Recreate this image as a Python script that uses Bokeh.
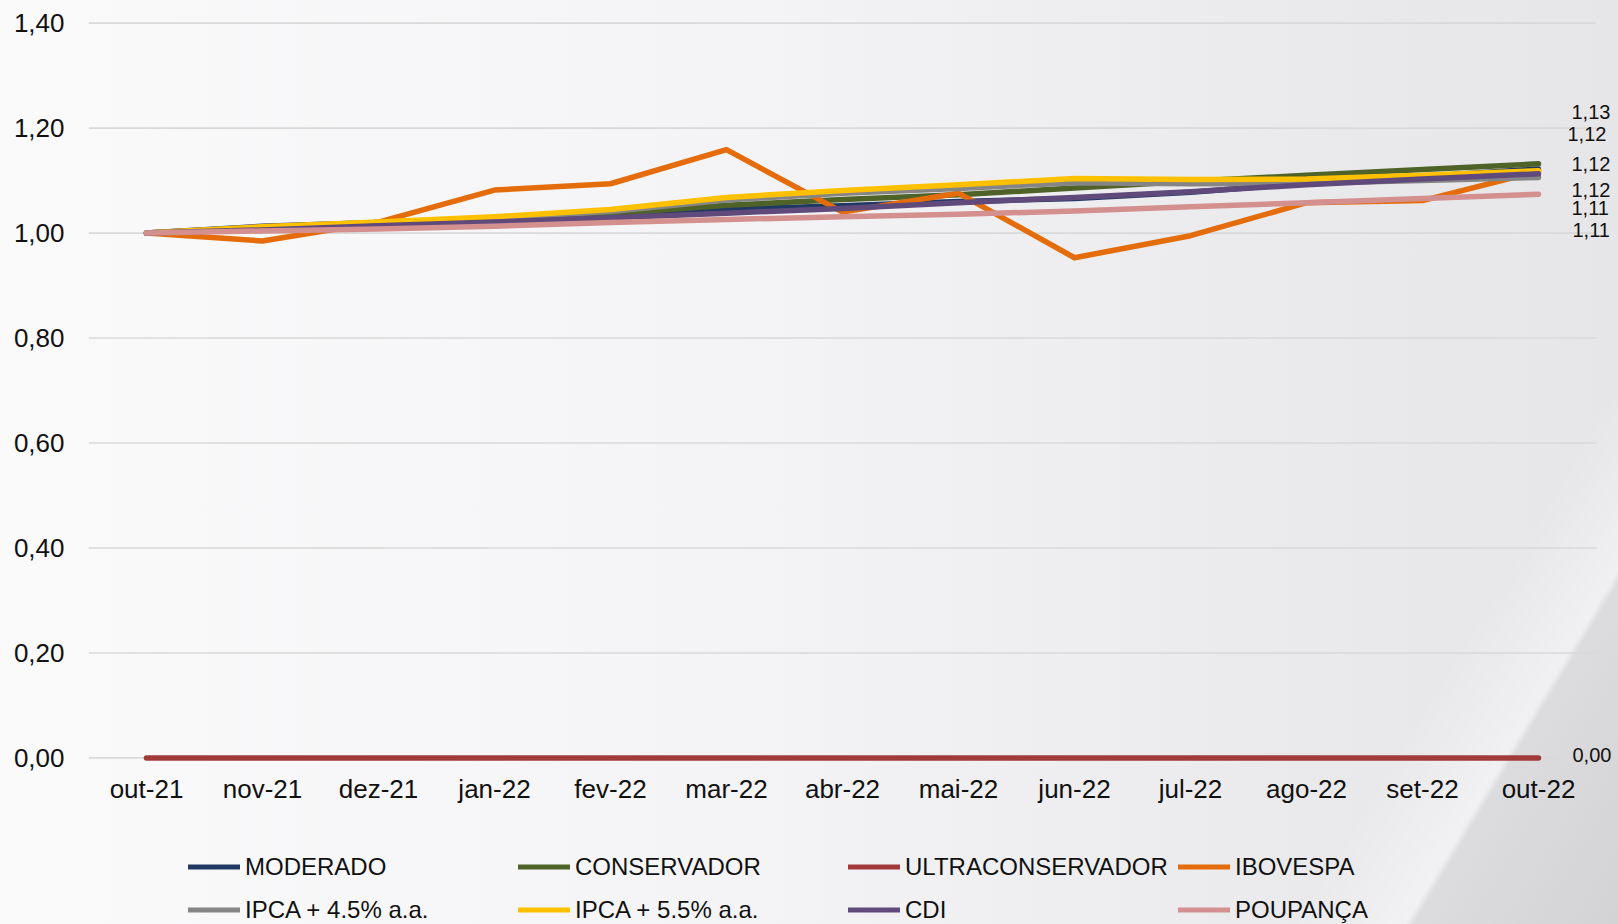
from bokeh.plotting import figure
from bokeh.layouts import column
from bokeh.models import ColumnDataSource, Legend, LegendItem, FixedTicker, Range1d
from bokeh.embed import file_html
from bokeh.resources import INLINE
from bokeh.core.properties import value

# ---------------- data ----------------
months = ["out-21", "nov-21", "dez-21", "jan-22", "fev-22", "mar-22", "abr-22",
          "mai-22", "jun-22", "jul-22", "ago-22", "set-22", "out-22"]

moderado = [1.000, 1.013, 1.020, 1.025, 1.033, 1.045, 1.052, 1.060, 1.066, 1.078, 1.095, 1.108, 1.122]
conservador = [1.000, 1.011, 1.018, 1.024, 1.037, 1.053, 1.064, 1.073, 1.086, 1.099, 1.110, 1.121, 1.132]
ultraconservador = [0.0] * 13
ibovespa = [1.000, 0.985, 1.021, 1.082, 1.094, 1.159, 1.040, 1.076, 0.953, 0.995, 1.058, 1.062, 1.118]
ipca_45 = [1.000, 1.012, 1.020, 1.028, 1.041, 1.063, 1.076, 1.085, 1.096, 1.094, 1.095, 1.100, 1.106]
ipca_55 = [1.000, 1.012, 1.021, 1.031, 1.045, 1.068, 1.081, 1.092, 1.104, 1.102, 1.103, 1.110, 1.119]
cdi = [1.000, 1.006, 1.014, 1.021, 1.029, 1.038, 1.047, 1.058, 1.068, 1.079, 1.092, 1.103, 1.113]
poupanca = [1.000, 1.004, 1.008, 1.013, 1.020, 1.026, 1.031, 1.036, 1.042, 1.050, 1.058, 1.066, 1.074]

series_names = ["MODERADO", "CONSERVADOR", "ULTRACONSERVADOR", "IBOVESPA",
                "IPCA + 4.5% a.a.", "IPCA + 5.5% a.a.", "CDI", "POUPANÇA"]
series_values = [moderado, conservador, ultraconservador, ibovespa,
                 ipca_45, ipca_55, cdi, poupanca]

y_ticks = [0.0, 0.2, 0.4, 0.6, 0.8, 1.0, 1.2, 1.4]
y_tick_labels = ["0,00", "0,20", "0,40", "0,60", "0,80", "1,00", "1,20", "1,40"]

# data labels at the last month (series, text)
end_label_series = ["CONSERVADOR", "MODERADO", "IPCA + 5.5% a.a.", "IBOVESPA",
                    "CDI", "IPCA + 4.5% a.a.", "ULTRACONSERVADOR"]
end_label_texts = ["1,13", "1,12", "1,12", "1,12", "1,11", "1,11", "0,00"]

# ---------------- styles ----------------
colors = ["#1f3864", "#4f6228", "#a33a3a", "#e46c0a",
          "#858585", "#ffc000", "#604a7b", "#d48f8f"]
label_x_offsets = [33, 29, 33, 33, 33, 34, 34]
label_y_offsets = [-52, -35, -7, 19, 34, 53, -3]
FONT = "Liberation Sans"

n = len(months)
xs = list(range(n))

MAIN_H = 830
p = figure(width=1618, height=MAIN_H, output_backend="svg", toolbar_location=None,
           x_range=Range1d(-0.5, -0.5 + 1530 / 116.0),
           y_range=Range1d(-0.0145, 1.4432),
           min_border_left=88, min_border_right=0, min_border_top=0,
           min_border_bottom=MAIN_H - 765)
p.background_fill_alpha = 0
p.border_fill_alpha = 0
p.outline_line_color = None
p.xgrid.visible = False
p.ygrid.visible = False

# gridlines spanning the category bins
p.segment(x0=[-0.5] * len(y_ticks), x1=[n - 0.5] * len(y_ticks), y0=y_ticks, y1=y_ticks,
          line_color="#d9d9d9", line_width=1.6)

for name, vals, col in zip(series_names, series_values, colors):
    src = ColumnDataSource(dict(x=xs, y=vals))
    p.line("x", "y", source=src, line_color=col, line_width=5.5,
           line_cap="round", line_join="round")

# end labels
lab_y = [series_values[series_names.index(s)][-1] for s in end_label_series]
lab_src = ColumnDataSource(dict(x=[xs[-1]] * len(lab_y), y=lab_y, t=end_label_texts,
                                xo=label_x_offsets, yo=label_y_offsets))
p.text(x="x", y="y", text="t", source=lab_src, x_offset="xo", y_offset="yo",
       text_font=value(FONT), text_font_size="20px", text_color="#111111",
       text_align="left", text_baseline="middle")

# axes
p.yaxis.ticker = FixedTicker(ticks=y_ticks)
p.yaxis.major_label_overrides = dict(zip(y_ticks, y_tick_labels))
p.xaxis.ticker = FixedTicker(ticks=xs)
p.xaxis.major_label_overrides = dict(zip(xs, months))
for ax in (p.xaxis[0], p.yaxis[0]):
    ax.axis_line_color = None
    ax.major_tick_line_color = None
    ax.minor_tick_line_color = None
    ax.major_tick_out = 0
    ax.major_tick_in = 0
    ax.major_label_text_font = FONT
    ax.major_label_text_font_size = "26px"
    ax.major_label_text_color = "#111111"
p.yaxis.major_label_standoff = 24
p.xaxis.major_label_standoff = 8

# ---------------- legend strip ----------------
LEG_H = 924 - MAIN_H
pl = figure(width=1618, height=LEG_H, output_backend="svg", toolbar_location=None,
            x_range=Range1d(-0.5, n - 0.5), y_range=Range1d(10, 11),
            x_axis_location=None, y_axis_location=None,
            min_border_left=0, min_border_right=0, min_border_top=0, min_border_bottom=0)
pl.grid.visible = False
pl.background_fill_alpha = 0
pl.border_fill_alpha = 0
pl.outline_line_color = None
# same series drawn outside the strip's visible range: only their legend glyphs show
leg_renderers = [pl.line(x=xs, y=vals, line_color=c, line_width=5, line_cap="round")
                 for vals, c in zip(series_values, colors)]

legend = Legend(
    items=[LegendItem(label=nm, renderers=[r]) for nm, r in zip(series_names, leg_renderers)],
    location=(100, -2), orientation="horizontal", ncols=4,
    label_text_font=FONT, label_text_font_size="24px", label_text_color="#111111",
    glyph_width=52, glyph_height=33, label_height=33, label_standoff=5,
    label_width=263, spacing=10, padding=0, margin=0,
    border_line_color=None, background_fill_alpha=0,
)
pl.add_layout(legend, "center")

layout = column(p, pl, spacing=0)
layout.styles = {
    "background": (
        "linear-gradient(121deg, rgba(255,255,255,0) 0%, rgba(255,255,255,0) 85%, "
        "rgba(255,255,255,0.4) 90.2%, #dcdcdf 90.6%, #d3d3d6 100%), "
        "linear-gradient(90deg, #fafafb 0%, #f4f4f6 45%, #eaeaec 80%, #e6e6e9 100%)"
    )
}

open("out.html", "w").write(file_html(layout, INLINE))
